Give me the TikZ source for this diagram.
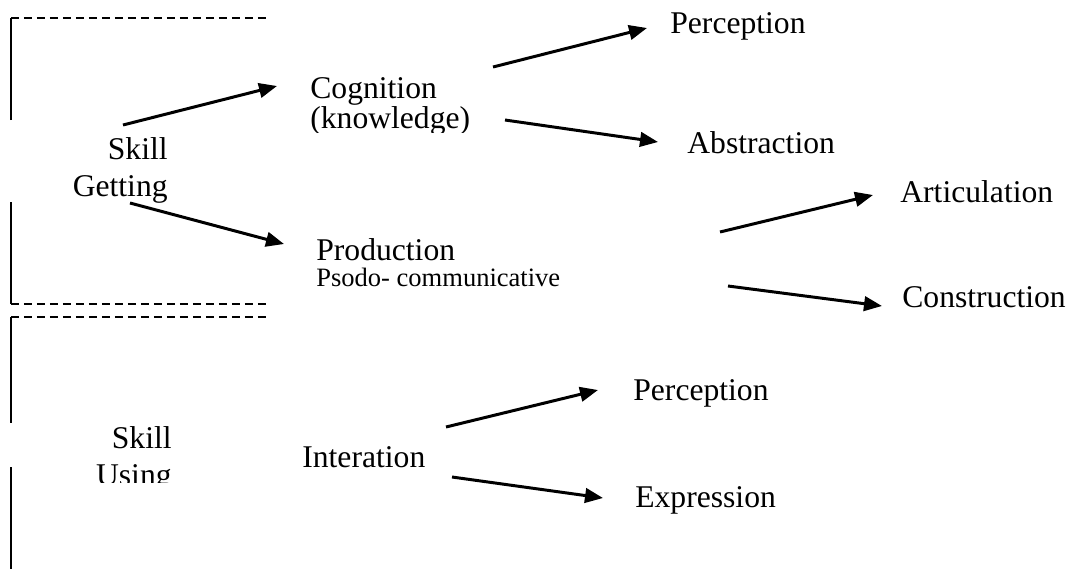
\documentclass[tikz,border=0pt]{standalone}
\usepackage{fontspec}
\setmainfont{Liberation Serif}
\usetikzlibrary{arrows.meta}
\usetikzlibrary{calc}
\usetikzlibrary{positioning}
\newcommand{\Gros}{\fontsize{18}{20.5}\selectfont}
\newcommand{\Petit}{\fontsize{15.1}{16}\selectfont}
\begin{document}
\begin{tikzpicture}[x=0.02cm,y=-0.02cm,
    lab/.style={inner sep=0, font=\Gros},
    fleche/.style={line width=1.7pt, arrows={-Triangle[length=0.36cm, width=0.29cm]}},
    cadre/.style={line width=0.8pt},
    pointille/.style={line width=0.8pt, dash pattern=on 0.16cm off 0.1cm}]
    \useasboundingbox (0,0) rectangle (1071,569);
    % brackets on the left
    \draw[cadre] (11,120) -- (11,18);
    \draw[pointille] (11,18) -- (268,18);
    \draw[cadre] (11,202) -- (11,304);
    \draw[pointille] (11,304) -- (268,304);
    \draw[pointille] (11,317) -- (268,317);
    \draw[cadre] (11,317) -- (11,423);
    \draw[cadre] (11,467) -- (11,569);

    % skill getting
    \node[lab, align=right, anchor=base east] (getting) at (168,196) {Skill\\Getting};
    \begin{scope}
        \clip (300,60) rectangle (500,132);
        \node[lab, align=left, anchor=base west, font=\fontsize{18}{17}\selectfont] (cognition) at (310,128) {Cognition\\(knowledge)};
    \end{scope}
    \node[lab, anchor=base west] (perception) at (670,33) {Perception};
    \node[lab, anchor=base west] (abstraction) at (687,153) {Abstraction};
    \node[lab, align=left, anchor=base west] (production) at (316,286) {Production\\[-6pt]{\Petit Psodo- communicative}};
    \node[lab, anchor=base west] (articulation) at (900,202) {Articulation};
    \node[lab, anchor=base west] (construction) at (902,307) {Construction};

    % skill using
    \begin{scope}
        \clip (60,400) rectangle (200,482);
        \node[lab, align=right, anchor=base east] (using) at (172,485) {Skill\\Using};
    \end{scope}
    \node[lab, anchor=base west] (interation) at (302,467) {Interation};
    \node[lab, anchor=base west] (perceptionB) at (633,400) {Perception};
    \node[lab, anchor=base west] (expression) at (635,507) {Expression};

    % arrows
    \draw[fleche] ($(getting.base east)+(-45,-71)$) -- ($(cognition.base west)+(-33,-42)$);
    \draw[fleche] ($(getting.base east)+(-38,7)$) -- ($(production.base west)+(-32,-42)$);
    \draw[fleche] ($(cognition.base west)+(183,-61)$) -- ($(perception.base west)+(-23,-5)$);
    \draw[fleche] ($(cognition.base west)+(195,-8)$) -- ($(abstraction.base west)+(-29,-11)$);
    \draw[fleche] ($(production.base west)+(404,-54)$) -- ($(articulation.base west)+(-27,-7)$);
    \draw[fleche] ($(production.base west)+(412,0)$) -- ($(construction.base west)+(-20,-1)$);
    \draw[fleche] ($(interation.base west)+(144,-40)$) -- ($(perceptionB.base west)+(-35,-10)$);
    \draw[fleche] ($(interation.base west)+(150,10)$) -- ($(expression.base west)+(-32,-9)$);
\end{tikzpicture}
\end{document}
